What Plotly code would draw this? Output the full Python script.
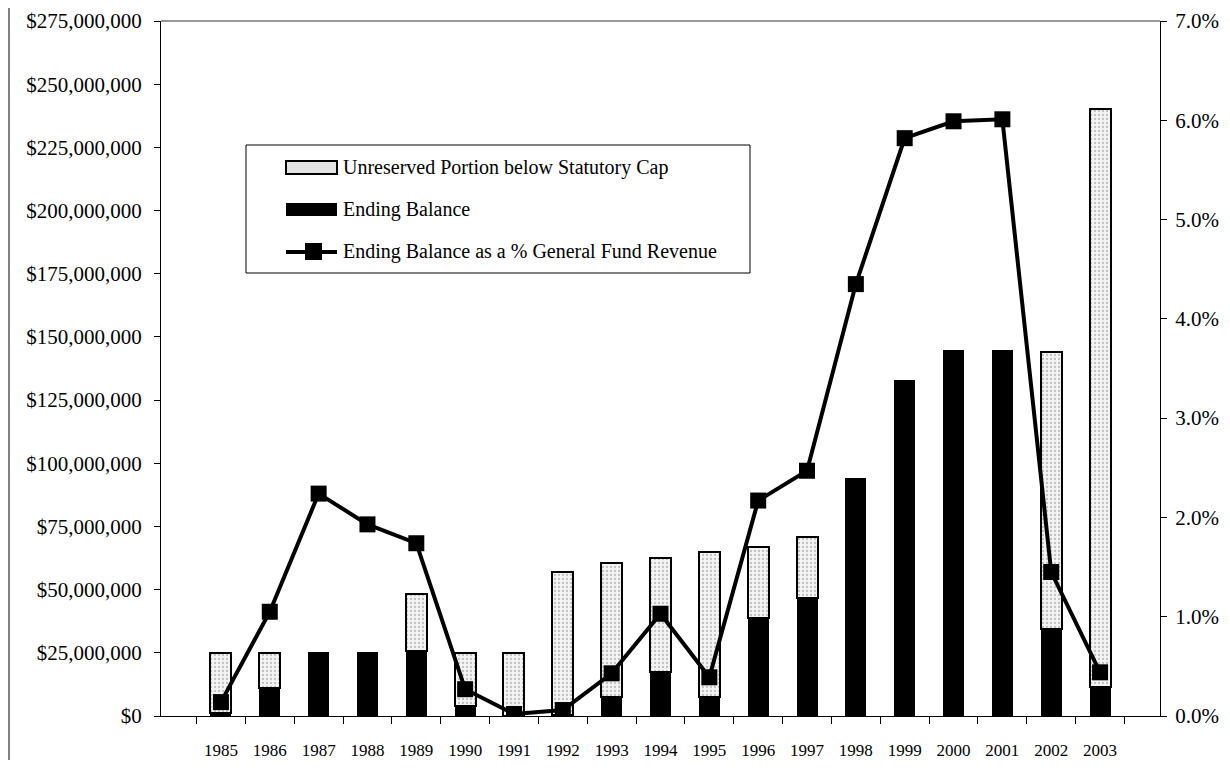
import plotly.graph_objects as go

years = ['1985', '1986', '1987', '1988', '1989', '1990', '1991', '1992', '1993', '1994',
         '1995', '1996', '1997', '1998', '1999', '2000', '2001', '2002', '2003']

# statutory cap (top of the bar) and ending balance, in millions of dollars
statutory_cap = [25.0, 25.0, 25.0, 25.0, 48.2, 25.0, 25.0, 57.0, 60.7, 62.7,
                 64.9, 66.9, 71.0, 93.6, 132.7, 144.5, 144.5, 143.9, 240.0]
ending_balance = [1.0, 10.9, 25.0, 25.0, 25.8, 3.9, 0.0, 0.5, 7.6, 17.5,
                  7.6, 38.6, 46.5, 93.6, 132.7, 144.5, 144.5, 34.6, 11.6]
pct_revenue = [0.14, 1.05, 2.24, 1.93, 1.74, 0.27, 0.02, 0.06, 0.43, 1.03,
               0.39, 2.17, 2.47, 4.35, 5.82, 5.99, 6.01, 1.45, 0.44]

legend_labels = ['Unreserved Portion below Statutory Cap', 'Ending Balance',
                 'Ending Balance as a % General Fund Revenue']

ending_balance = [v * 1e6 for v in ending_balance]
unreserved = [c * 1e6 - e for c, e in zip(statutory_cap, ending_balance)]

font = 'Liberation Serif'
# the page body has an 8px margin, so the figure is a bit smaller than the window
OFF = 8
W, H = 1214, 752
L, R, T, B = 153, 62, 13, 44


# screen pixel -> paper coordinates (for the hand-drawn legend box)
def px(x):
    return (x - OFF - L) / (W - L - R)


def py(y):
    return (H - B - (y - OFF)) / (H - T - B)


fig = go.Figure()
fig.add_trace(go.Bar(
    x=years, y=ending_balance, name=legend_labels[1],
    marker=dict(color='black', line=dict(width=0)),
))
fig.add_trace(go.Bar(
    x=years, y=unreserved, name=legend_labels[0],
    marker=dict(color='#f2f2f2', line=dict(color='black', width=2),
                pattern=dict(shape='.', fgcolor='#8a8a8a', bgcolor='#f4f4f4', size=4, solidity=0.25)),
))
fig.add_trace(go.Scatter(
    x=years, y=pct_revenue, name=legend_labels[2],
    yaxis='y2', mode='lines+markers',
    line=dict(color='black', width=4),
    marker=dict(symbol='square', size=16, color='black'),
))

# legend drawn by hand so the swatches are wide like the original
shapes = [
    dict(type='rect', xref='paper', yref='paper', x0=px(246), x1=px(750), y0=py(145), y1=py(273),
         line=dict(color='black', width=1), fillcolor='white', layer='above'),
    dict(type='rect', xref='paper', yref='paper', x0=px(286), x1=px(337), y0=py(161), y1=py(174),
         line=dict(color='black', width=2), fillcolor='#e4e4e4', layer='above'),
    dict(type='rect', xref='paper', yref='paper', x0=px(286), x1=px(337), y0=py(203), y1=py(216),
         line=dict(width=0), fillcolor='black', layer='above'),
    dict(type='line', xref='paper', yref='paper', x0=px(286), x1=px(337), y0=py(252), y1=py(252),
         line=dict(color='black', width=4), layer='above'),
    dict(type='rect', xref='paper', yref='paper', x0=px(305), x1=px(322), y0=py(243), y1=py(260),
         line=dict(width=0), fillcolor='black', layer='above'),
    # thin frame line along the top of the plot
    dict(type='line', xref='paper', yref='paper', x0=0, x1=1, y0=1, y1=1,
         line=dict(color='#333', width=1)),
    # outer frame line on the left edge
    dict(type='line', xref='paper', yref='paper', x0=px(9), x1=px(9), y0=py(760), y1=py(8),
         line=dict(color='black', width=1)),
]
annotations = [
    dict(xref='paper', yref='paper', x=px(341), y=py(yy), text=t, showarrow=False,
         xanchor='left', yanchor='middle', font=dict(size=20))
    for t, yy in zip(legend_labels, [167, 210, 252])
]

fig.update_layout(
    width=W, height=H,
    margin=dict(l=L, r=R, t=T, b=B),
    paper_bgcolor='white', plot_bgcolor='white',
    barmode='stack', bargap=0.57, showlegend=False,
    font=dict(family=font, color='black', size=20),
    xaxis=dict(showline=True, linecolor='black', linewidth=1,
               ticks='outside', tickson='boundaries', ticklen=7, tickcolor='black',
               tickfont=dict(size=17), ticklabelstandoff=19, showgrid=False, automargin=False,
               ticklabeloverflow='allow'),
    yaxis=dict(range=[0, 275e6], tickvals=[i * 25e6 for i in range(12)],
               tickformat='$,.0f', showline=True, linecolor='black', linewidth=1,
               ticks='outside', ticklen=6, tickcolor='black', showgrid=False, zeroline=False,
               tickfont=dict(size=21), ticklabelstandoff=8, automargin=False,
               ticklabeloverflow='allow'),
    yaxis2=dict(overlaying='y', side='right', range=[0, 7], dtick=1,
                tickformat='.1f', ticksuffix='%', showline=True, linecolor='black', linewidth=1,
                ticks='outside', ticklen=6, tickcolor='black', showgrid=False, zeroline=False,
                tickfont=dict(size=21), ticklabelstandoff=4, automargin=False,
                ticklabeloverflow='allow'),
    shapes=shapes,
    annotations=annotations,
)

fig.write_html("out.html")
